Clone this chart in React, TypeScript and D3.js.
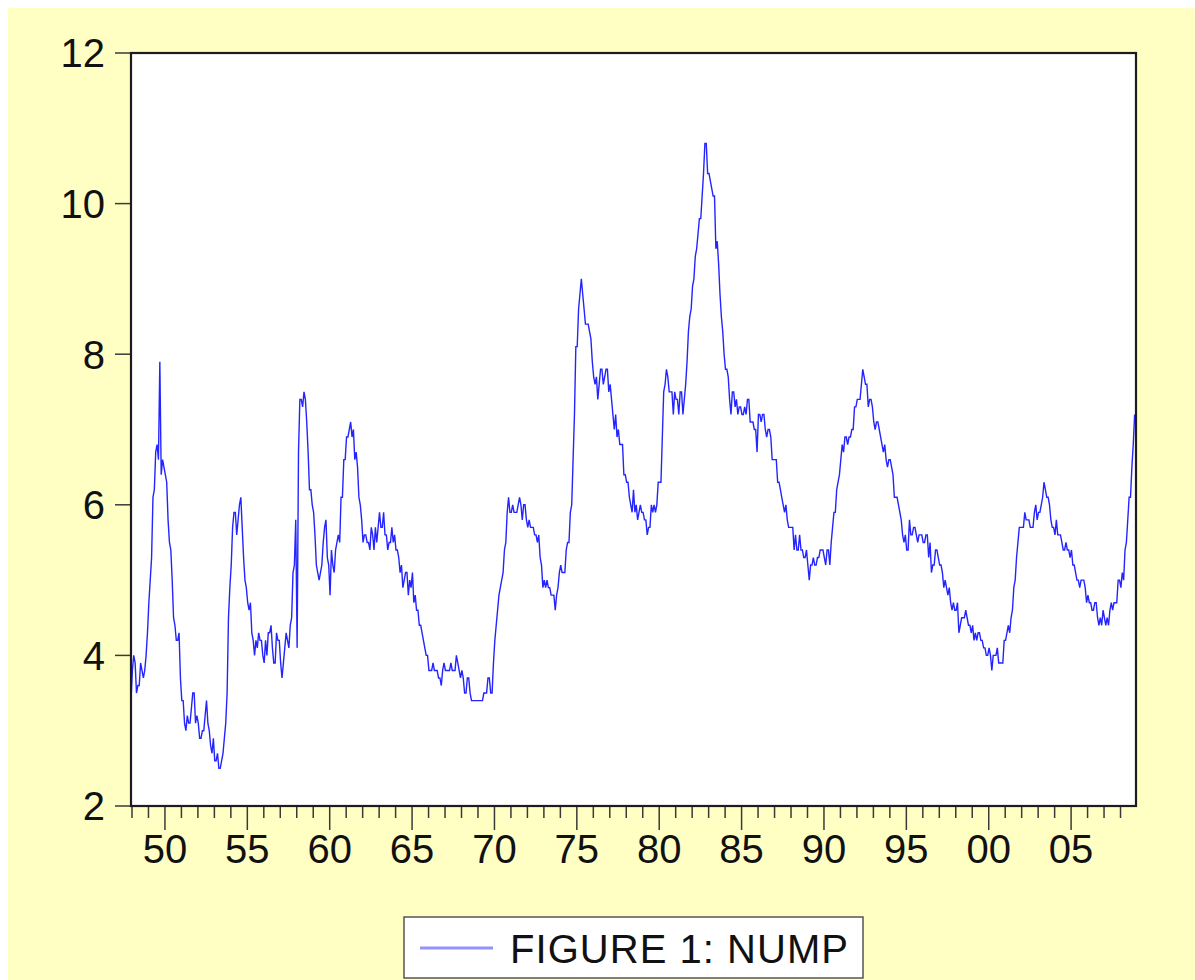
import React, { useEffect, useRef } from "react";
import * as d3 from "d3";

// monthly values, Jan 1948 - Dec 2008
const nump1948s = [
  3.4, 3.8, 4.0, 3.9, 3.5, 3.6, 3.6, 3.9, 3.8, 3.7, 3.8, 4.0,
  4.3, 4.7, 5.0, 5.3, 6.1, 6.2, 6.7, 6.8, 6.6, 7.9, 6.4, 6.6,
  6.5, 6.4, 6.3, 5.8, 5.5, 5.4, 5.0, 4.5, 4.4, 4.2, 4.2, 4.3,
  3.7, 3.4, 3.4, 3.1, 3.0, 3.2, 3.1, 3.1, 3.3, 3.5, 3.5, 3.1,
  3.2, 3.1, 2.9, 2.9, 3.0, 3.0, 3.2, 3.4, 3.1, 3.0, 2.8, 2.7,
  2.9, 2.6, 2.6, 2.7, 2.5, 2.5, 2.6, 2.7, 2.9, 3.1, 3.5, 4.5,
  4.9, 5.2, 5.7, 5.9, 5.9, 5.6, 5.8, 6.0, 6.1, 5.7, 5.3, 5.0,
  4.9, 4.7, 4.6, 4.7, 4.3, 4.2, 4.0, 4.2, 4.1, 4.3, 4.2, 4.2,
  4.0, 3.9, 4.2, 4.0, 4.3, 4.3, 4.4, 4.1, 3.9, 3.9, 4.3, 4.2,
  4.2, 3.9, 3.7, 3.9, 4.1, 4.3, 4.2, 4.1, 4.4, 4.5, 5.1, 5.2,
];
const nump1958s = [
  5.8, 4.1, 6.7, 7.4, 7.4, 7.3, 7.5, 7.4, 7.1, 6.7, 6.2, 6.2,
  6.0, 5.9, 5.6, 5.2, 5.1, 5.0, 5.1, 5.2, 5.5, 5.7, 5.8, 5.3,
  5.2, 4.8, 5.4, 5.2, 5.1, 5.4, 5.5, 5.6, 5.5, 6.1, 6.1, 6.6,
  6.6, 6.9, 6.9, 7.0, 7.1, 6.9, 7.0, 6.6, 6.7, 6.5, 6.1, 6.0,
  5.8, 5.5, 5.6, 5.6, 5.5, 5.5, 5.4, 5.7, 5.6, 5.4, 5.7, 5.5,
  5.7, 5.9, 5.7, 5.7, 5.9, 5.6, 5.6, 5.4, 5.5, 5.5, 5.7, 5.5,
  5.6, 5.4, 5.4, 5.3, 5.1, 5.2, 4.9, 5.0, 5.1, 5.1, 4.8, 5.0,
  4.9, 5.1, 4.7, 4.8, 4.6, 4.6, 4.4, 4.4, 4.3, 4.2, 4.1, 4.0,
  4.0, 3.8, 3.8, 3.8, 3.9, 3.8, 3.8, 3.8, 3.7, 3.7, 3.6, 3.8,
  3.9, 3.8, 3.8, 3.8, 3.8, 3.9, 3.8, 3.8, 3.8, 4.0, 3.9, 3.8,
];
const nump1968s = [
  3.7, 3.8, 3.7, 3.5, 3.5, 3.7, 3.7, 3.5, 3.4, 3.4, 3.4, 3.4,
  3.4, 3.4, 3.4, 3.4, 3.4, 3.5, 3.5, 3.5, 3.7, 3.7, 3.5, 3.5,
  3.9, 4.2, 4.4, 4.6, 4.8, 4.9, 5.0, 5.1, 5.4, 5.5, 5.9, 6.1,
  5.9, 5.9, 6.0, 5.9, 5.9, 5.9, 6.0, 6.1, 6.0, 5.8, 6.0, 6.0,
  5.8, 5.7, 5.8, 5.7, 5.7, 5.7, 5.6, 5.6, 5.5, 5.6, 5.3, 5.2,
  4.9, 5.0, 4.9, 5.0, 4.9, 4.9, 4.8, 4.8, 4.8, 4.6, 4.8, 4.9,
  5.1, 5.2, 5.1, 5.1, 5.1, 5.4, 5.5, 5.5, 5.9, 6.0, 6.6, 7.2,
  8.1, 8.1, 8.6, 8.8, 9.0, 8.8, 8.6, 8.4, 8.4, 8.4, 8.3, 8.2,
  7.9, 7.7, 7.6, 7.7, 7.4, 7.6, 7.8, 7.8, 7.6, 7.7, 7.8, 7.8,
  7.5, 7.6, 7.4, 7.2, 7.0, 7.2, 6.9, 7.0, 6.8, 6.8, 6.8, 6.4,
];
const nump1978s = [
  6.4, 6.3, 6.3, 6.1, 6.0, 5.9, 6.2, 5.9, 6.0, 5.8, 5.9, 6.0,
  5.9, 5.9, 5.8, 5.8, 5.6, 5.7, 5.7, 6.0, 5.9, 6.0, 5.9, 6.0,
  6.3, 6.3, 6.3, 6.9, 7.5, 7.6, 7.8, 7.7, 7.5, 7.5, 7.5, 7.2,
  7.5, 7.4, 7.4, 7.2, 7.5, 7.5, 7.2, 7.4, 7.6, 7.9, 8.3, 8.5,
  8.6, 8.9, 9.0, 9.3, 9.4, 9.6, 9.8, 9.8, 10.1, 10.4, 10.8, 10.8,
  10.4, 10.4, 10.3, 10.2, 10.1, 10.1, 9.4, 9.5, 9.2, 8.8, 8.5, 8.3,
  8.0, 7.8, 7.8, 7.7, 7.4, 7.2, 7.5, 7.5, 7.3, 7.4, 7.2, 7.3,
  7.3, 7.2, 7.2, 7.3, 7.2, 7.4, 7.4, 7.1, 7.1, 7.1, 7.0, 7.0,
  6.7, 7.2, 7.2, 7.1, 7.2, 7.2, 7.0, 6.9, 7.0, 7.0, 6.9, 6.6,
  6.6, 6.6, 6.6, 6.3, 6.3, 6.2, 6.1, 6.0, 5.9, 6.0, 5.8, 5.7,
];
const nump1988s = [
  5.7, 5.7, 5.7, 5.4, 5.6, 5.4, 5.4, 5.6, 5.4, 5.4, 5.3, 5.3,
  5.4, 5.2, 5.0, 5.2, 5.2, 5.3, 5.2, 5.2, 5.3, 5.3, 5.4, 5.4,
  5.4, 5.3, 5.2, 5.4, 5.4, 5.2, 5.5, 5.7, 5.9, 5.9, 6.2, 6.3,
  6.4, 6.6, 6.8, 6.7, 6.9, 6.9, 6.8, 6.9, 6.9, 7.0, 7.0, 7.3,
  7.3, 7.4, 7.4, 7.4, 7.6, 7.8, 7.7, 7.6, 7.6, 7.3, 7.4, 7.4,
  7.3, 7.1, 7.0, 7.1, 7.1, 7.0, 6.9, 6.8, 6.7, 6.8, 6.6, 6.5,
  6.6, 6.6, 6.5, 6.4, 6.1, 6.1, 6.1, 6.0, 5.9, 5.8, 5.6, 5.5,
  5.6, 5.4, 5.4, 5.8, 5.6, 5.6, 5.7, 5.7, 5.6, 5.5, 5.6, 5.6,
  5.6, 5.5, 5.5, 5.6, 5.6, 5.3, 5.5, 5.1, 5.2, 5.2, 5.4, 5.4,
  5.3, 5.2, 5.2, 5.1, 4.9, 5.0, 4.9, 4.8, 4.9, 4.7, 4.6, 4.7,
];
const nump1998s = [
  4.6, 4.6, 4.7, 4.3, 4.4, 4.5, 4.5, 4.5, 4.6, 4.5, 4.4, 4.4,
  4.3, 4.4, 4.2, 4.3, 4.2, 4.3, 4.3, 4.2, 4.2, 4.1, 4.1, 4.0,
  4.0, 4.1, 4.0, 3.8, 4.0, 4.0, 4.0, 4.1, 3.9, 3.9, 3.9, 3.9,
  4.2, 4.2, 4.3, 4.4, 4.3, 4.5, 4.6, 4.9, 5.0, 5.3, 5.5, 5.7,
  5.7, 5.7, 5.7, 5.9, 5.8, 5.8, 5.8, 5.7, 5.7, 5.7, 5.9, 6.0,
  5.8, 5.9, 5.9, 6.0, 6.1, 6.3, 6.2, 6.1, 6.1, 6.0, 5.8, 5.7,
  5.7, 5.6, 5.8, 5.6, 5.6, 5.6, 5.5, 5.4, 5.4, 5.5, 5.4, 5.4,
  5.3, 5.4, 5.2, 5.2, 5.1, 5.0, 5.0, 4.9, 5.0, 5.0, 5.0, 4.9,
  4.7, 4.8, 4.7, 4.7, 4.6, 4.6, 4.7, 4.7, 4.5, 4.4, 4.5, 4.4,
  4.6, 4.5, 4.4, 4.5, 4.4, 4.6, 4.7, 4.6, 4.7, 4.7, 4.7, 5.0,
  5.0, 4.9, 5.1, 5.0, 5.4, 5.5, 5.8, 6.1, 6.1, 6.5, 6.8, 7.2,
];

const startYear = 1948;
const endYear = 2009;
const yTicks = [2, 4, 6, 8, 10, 12];
const majorYears = [1950, 1955, 1960, 1965, 1970, 1975, 1980, 1985, 1990, 1995, 2000, 2005];
const seriesName = "FIGURE 1: NUMP";

const values = [
  ...nump1948s, ...nump1958s, ...nump1968s,
  ...nump1978s, ...nump1988s, ...nump1998s,
];
const data = values.map((v, i) => ({ t: startYear + i / 12, v }));

export default function App() {
  const ref = useRef<SVGSVGElement | null>(null);

  useEffect(() => {
    const W = 1195, H = 980;
    const left = 131, right = 1136, top = 53, bottom = 806;
    const font = "'Liberation Sans', Arial, sans-serif";

    const svg = d3.select(ref.current);
    svg.selectAll("*").remove();

    svg.append("rect")
      .attr("x", 8).attr("y", 8)
      .attr("width", W - 8).attr("height", H - 8)
      .attr("fill", "#ffffc4");

    const x = d3.scaleLinear().domain([startYear, endYear]).range([left, right]);
    const y = d3.scaleLinear().domain([2, 12]).range([bottom, top]);

    svg.append("rect")
      .attr("x", left).attr("y", top)
      .attr("width", right - left).attr("height", bottom - top)
      .attr("fill", "#ffffff");

    // y axis ticks + labels
    const ya = svg.append("g");
    yTicks.forEach((t) => {
      ya.append("line")
        .attr("x1", left - 16).attr("x2", left)
        .attr("y1", y(t)).attr("y2", y(t))
        .attr("stroke", "#3a3a3a").attr("stroke-width", 1.5);
      ya.append("text")
        .attr("x", 105).attr("y", y(t))
        .attr("dy", "0.36em")
        .attr("text-anchor", "end")
        .attr("font-family", font).attr("font-size", 40)
        .attr("fill", "#111")
        .text(t);
    });

    // x axis: yearly minor ticks, 5-year majors
    const xa = svg.append("g");
    d3.range(startYear, endYear).forEach((yr) => {
      const major = majorYears.includes(yr);
      xa.append("line")
        .attr("x1", x(yr) + 1).attr("x2", x(yr) + 1)
        .attr("y1", bottom).attr("y2", bottom + (major ? 24 : 12))
        .attr("stroke", "#3a3a3a").attr("stroke-width", 1.5);
    });
    majorYears.forEach((yr) => {
      xa.append("text")
        .attr("x", x(yr) + 1).attr("y", 863)
        .attr("text-anchor", "middle")
        .attr("font-family", font).attr("font-size", 40)
        .attr("fill", "#111")
        .text(String(yr % 100).padStart(2, "0"));
    });

    const line = d3.line<{ t: number; v: number }>()
      .x((d) => x(d.t))
      .y((d) => y(d.v));

    svg.append("path")
      .datum(data)
      .attr("fill", "none")
      .attr("stroke", "#2424ff")
      .attr("stroke-width", 1.4)
      .attr("d", line);

    svg.append("rect")
      .attr("x", left).attr("y", top)
      .attr("width", right - left).attr("height", bottom - top)
      .attr("fill", "none")
      .attr("stroke", "#1c1c1c").attr("stroke-width", 2.2);

    // legend
    const lg = svg.append("g");
    lg.append("rect")
      .attr("x", 404).attr("y", 917)
      .attr("width", 459).attr("height", 61)
      .attr("fill", "#ffffff")
      .attr("stroke", "#555").attr("stroke-width", 1.5);
    lg.append("line")
      .attr("x1", 420).attr("x2", 493)
      .attr("y1", 948).attr("y2", 948)
      .attr("stroke", "#9393ff").attr("stroke-width", 3);
    lg.append("text")
      .attr("x", 510).attr("y", 963)
      .attr("font-family", font).attr("font-size", 40)
      .attr("textLength", 338)
      .attr("lengthAdjust", "spacing")
      .attr("fill", "#111")
      .text(seriesName);
  }, []);

  return (
    <svg
      ref={ref}
      width={1195}
      height={980}
      style={{ position: "absolute", left: 0, top: 0, display: "block" }}
    />
  );
}
